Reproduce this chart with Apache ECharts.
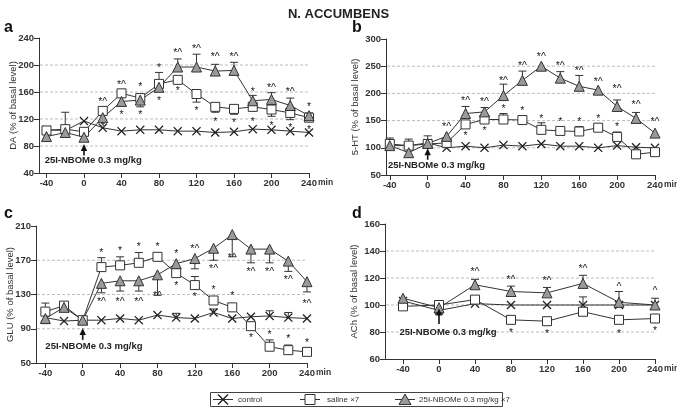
<!DOCTYPE html>
<html><head><meta charset="utf-8">
<script src="https://cdn.jsdelivr.net/npm/echarts@6/dist/echarts.min.js"></script>
<style>html,body{margin:0;padding:0;background:#fff}#c{width:677px;height:407px}</style>
</head><body><div id="c"></div>
<script>
// ---- data ----
const xs = [-40,-20,0,20,40,60,80,100,120,140,160,180,200,220,240];
const xsD = [-40,0,40,80,120,160,200,240];
const xTicks = [-40,0,40,80,120,160,200,240];

const daControl = [104,103,117,107,102,104,104,102,102,100,101,105,104,102,100];
const daSaline  = [103,105,101,132,158,151,172,178,157,138,135,138,134,129,122];
const daNbome   = [94,100,93,122,146,148,167,197,197,191,192,147,149,140,125];
const daSalineErr = [0,25,0,0,0,-13,0,0,-12,-8,-8,-6,-10,-10,-6];
const daNbomeErr  = [0,0,0,5,8,6,22,12,19,10,12,8,10,11,4];
const daMarks = [[20,148,'*^'],[20,111,'*'],[40,173,'*^'],[40,129,'*'],[60,170,'*'],[60,128,'*'],[80,199,'*'],[80,150,'*'],[100,220,'*^'],[100,164,'*'],[120,227,'*^'],[120,134,'*'],[140,214,'*^'],[140,119,'*'],[160,215,'*^'],[160,117,'*'],[180,163,'*'],[180,119,'*'],[200,168,'*^'],[200,113,'*'],[220,163,'*^'],[220,110,'*'],[240,140,'*'],[240,107,'*']];

const htControl = [104,104,109,100,103,100,105,103,107,103,103,100,104,101,100];
const htSaline  = [107,104,107,109,143,152,152,151,133,131,130,137,120,88,92];
const htNbome   = [104,91,108,121,163,166,196,224,250,228,213,206,176,154,127];
const htSalineErr = [11,12,15,0,0,0,11,7,13,0,9,0,9,0,0];
const htNbomeErr  = [0,0,0,0,13,8,21,17,0,12,20,0,12,11,0];
const htMarks = [[20,141,'*^'],[40,189,'*^'],[40,125,'*'],[60,187,'*^'],[60,135,'*'],[80,227,'*^'],[80,175,'*'],[100,254,'*^'],[100,171,'*'],[120,271,'*^'],[120,157,'*'],[140,254,'*^'],[140,150,'*'],[160,245,'*^'],[160,150,'*'],[180,224,'*^'],[180,157,'*'],[200,212,'*^'],[200,141,'*'],[220,183,'*^'],[240,150,'*^']];

const gluControl = [103,99,100,100,102,100,106,103,102,109,102,104,105,103,102];
const gluControlErr = [0,0,0,0,0,0,0,5,0,4,0,0,6,6,0];
const gluSaline  = [110,117,100,162,164,167,174,155,141,123,115,93,69,65,63];
const gluSalineErr = [10,0,0,11,10,12,0,0,10,0,0,0,8,6,0];
const gluNbome   = [102,115,100,143,146,146,153,166,172,184,200,183,183,169,145];
const gluNbomeErr = [-6,0,0,-11,-12,-12,-24,0,-12,-14,-26,-16,-16,-12,-12];
const gluMarks = [[20,181,'*'],[20,123,'*^'],[40,183,'*'],[40,123,'*^'],[60,188,'*'],[60,123,'*^'],[80,188,'*'],[80,131,'*^'],[100,179,'*'],[100,142,'*'],[120,185,'*^'],[120,129,'*'],[140,137,'*'],[140,162,'*^'],[160,175,'*^'],[160,130,'*'],[180,158,'*^'],[180,81,'*'],[200,158,'*^'],[200,85,'*'],[220,149,'*^'],[220,80,'*'],[240,121,'*^'],[240,76,'*']];

const achControl = [103,96,101,100,100,100,100,100];
const achControlErr = [0,0,0,0,0,6,0,0];
const achSaline  = [99,100,104,89,88,95,89,90];
const achNbome   = [105,98,115,110,109,116,102,100];
const achNbomeErr = [0,0,4,4,4,6,8,5];
const achMarks = [[40,126,'*^'],[80,120,'*^'],[80,81,'*'],[120,119,'*^'],[120,80,'*'],[160,128,'*^'],[200,115,'^'],[200,80,'*'],[240,112,'^'],[240,82,'*']];

const yNames = ['DA (% of basal level)','5-HT (% of basal level)','GLU (% of basal level)','ACh (% of basal level)'];
const yRanges = [[40,240,40],[50,300,50],[50,210,40],[60,160,20]];
const xMins = [-48,-44,-50,-60];
// injection arrow at t=0: [tail, head]; dose label [x, y]
const arrows = [[66,83],[78,99],[77,91],[86,97.5]];
const doseLabelPos = [[-42,59],[-42,67],[-40,69],[-44,80]];
const doseText = '25I-NBOMe 0.3 mg/kg';
const names = ['control','saline \u00d77','25I-NBOMe 0.3 mg/kg \u00d77'];

const panels = [
  {x:xs, c:daControl, s:daSaline, n:daNbome, ce:null, se:daSalineErr, ne:daNbomeErr, marks:daMarks},
  {x:xs, c:htControl, s:htSaline, n:htNbome, ce:null, se:htSalineErr, ne:htNbomeErr, marks:htMarks},
  {x:xs, c:gluControl, s:gluSaline, n:gluNbome, ce:gluControlErr, se:gluSalineErr, ne:gluNbomeErr, marks:gluMarks},
  {x:xsD, c:achControl, s:achSaline, n:achNbome, ce:achControlErr, se:null, ne:achNbomeErr, marks:achMarks}
];
const grids = [
  {left:39, top:38, width:270, height:135},
  {left:386, top:39, width:269, height:136},
  {left:36, top:226, width:271, height:137},
  {left:385, top:224, width:270, height:135}
];
const nameGaps = [26,31,26,31];

const ink = '#333';
const XPATH = 'path://M0,1L1,0L5,4L9,0L10,1L6,5L10,9L9,10L5,6L1,10L0,9L4,5Z';
const font = 'Liberation Sans, Arial, sans-serif';

const xAxis = [], yAxis = [], series = [];
panels.forEach((p,i)=>{
  xAxis.push({type:'value', gridIndex:i, min:xMins[i], max:240,
    axisLine:{onZero:false, lineStyle:{color:ink,width:1}},
    axisTick:{customValues:xTicks, lineStyle:{color:ink}},
    axisLabel:{customValues:xTicks, color:'#333', fontSize:9.5, fontWeight:'bold', fontFamily:font, margin:5},
    splitLine:{show:false}});
  const r = yRanges[i];
  yAxis.push({type:'value', gridIndex:i, min:r[0], max:r[1], interval:r[2],
    axisLine:{show:true, onZero:false, lineStyle:{color:ink,width:1}},
    axisTick:{lineStyle:{color:ink}},
    axisLabel:{color:'#333', fontSize:9.5, fontWeight:'bold', fontFamily:font, margin:5},
    splitLine:{show:false}});
  const zip = arr => p.x.map((x,k)=>[x,arr[k]]);
  series.push({type:'line', name:names[0], xAxisIndex:i, yAxisIndex:i, data:zip(p.c), symbol:XPATH, symbolSize:9,
    itemStyle:{color:'#222'}, lineStyle:{color:ink,width:1}});
  series.push({type:'line', name:names[1], xAxisIndex:i, yAxisIndex:i, data:zip(p.s), symbol:'rect', symbolSize:9,
    itemStyle:{color:'#fff', borderColor:ink, borderWidth:1}, lineStyle:{color:ink,width:1}});
  series.push({type:'line', name:names[2], xAxisIndex:i, yAxisIndex:i, data:zip(p.n), symbol:'triangle', symbolSize:10,
    itemStyle:{color:'#9a9a9a', borderColor:ink, borderWidth:1}, lineStyle:{color:ink,width:1}});
});

const chart = echarts.init(document.getElementById('c'));
chart.setOption({
  animation:false,
  backgroundColor:'#fff',
  title:{text:'N. ACCUMBENS', left:'center', top:3, textStyle:{fontSize:13, fontWeight:'bold', color:'#222', fontFamily:font}},
  grid:grids,
  xAxis:xAxis, yAxis:yAxis, series:series
});

// overlays placed through the axes: gridlines, error bars, marks, arrows, labels, legend
const letters = [['a',4,30],['b',352,30],['c',4,216],['d',352,216]];
const gfx = letters.map(l=>({type:'text', x:l[1], y:l[2]-10, style:{text:l[0], font:'bold 16px '+font, fill:'#111'}, z:10}));
panels.forEach((p,i)=>{
  const px = v => chart.convertToPixel({gridIndex:i}, v);
  const r = yRanges[i], g = grids[i];
  for (let v = r[0]+r[2]; v < r[1]; v += r[2]) {
    const a0 = px([xMins[i], v]), a1 = px([240, v]);
    gfx.push({type:'line', shape:{x1:a0[0]+1,y1:a0[1],x2:a1[0],y2:a1[1]}, style:{stroke:'#bdbdbd',lineWidth:1,lineDash:[3,2]}, z:-1, silent:true});
  }
  // y-axis title and "min" unit
  gfx.push({type:'text', x:g.left-nameGaps[i], y:g.top+g.height/2, rotation:Math.PI/2,
    style:{text:yNames[i], font:'9.5px '+font, fill:'#333', align:'center', verticalAlign:'middle', textAlign:'center', textVerticalAlign:'middle'}, z:10, silent:true});
  const m240 = px([240, yRanges[i][0]]);
  gfx.push({type:'text', x:m240[0]+9, y:m240[1]+10, style:{text:'min', font:'bold 8.5px '+font, fill:'#333', verticalAlign:'middle', textVerticalAlign:'middle'}, z:10, silent:true});
  [[p.c,p.ce],[p.s,p.se],[p.n,p.ne]].forEach(([vals,errs])=>{
    if (!errs) return;
    p.x.forEach((x,k)=>{
      const e = errs[k];
      if (!e) return;
      const p0 = px([x, vals[k]]), p1 = px([x, vals[k]+e]);
      gfx.push({type:'line', shape:{x1:p0[0],y1:p0[1],x2:p1[0],y2:p1[1]}, style:{stroke:ink,lineWidth:1}, z:1, silent:true});
      gfx.push({type:'line', shape:{x1:p1[0]-4,y1:p1[1],x2:p1[0]+4,y2:p1[1]}, style:{stroke:ink,lineWidth:1}, z:1, silent:true});
    });
  });
  p.marks.forEach(m=>{
    const q = px([m[0], m[1]]);
    gfx.push({type:'text', x:q[0], y:q[1]+2, style:{text:m[2], font:'10.5px '+font, fill:'#222', textAlign:'center', textVerticalAlign:'middle', align:'center', verticalAlign:'middle'}, z:10, silent:true});
  });
  const a = arrows[i], dl = doseLabelPos[i];
  const t = px([0,a[0]]), h = px([0,a[1]]), tp = px(dl);
  gfx.push({type:'line', shape:{x1:t[0],y1:t[1],x2:h[0],y2:h[1]+6}, style:{stroke:'#111',lineWidth:1.6}, z:10, silent:true});
  gfx.push({type:'polygon', shape:{points:[[h[0],h[1]],[h[0]-3.2,h[1]+7],[h[0]+3.2,h[1]+7]]}, style:{fill:'#111'}, z:10, silent:true});
  gfx.push({type:'text', x:tp[0], y:tp[1], style:{text:doseText, font:'bold 9.5px '+font, fill:'#222', textVerticalAlign:'middle', verticalAlign:'middle'}, z:10, silent:true});
});
// legend box
const legY = 399.5, legItems = [[223,238],[310,327],[405,419]];
gfx.push({type:'rect', shape:{x:210.5, y:392.5, width:292, height:14}, style:{fill:'#fff', stroke:'#444', lineWidth:1}, z:10, silent:true});
legItems.forEach(([cx,tx],k)=>{
  gfx.push({type:'line', shape:{x1:cx-10,y1:legY,x2:cx+10,y2:legY}, style:{stroke:ink,lineWidth:1}, z:11, silent:true});
  if (k===0) {
    gfx.push({type:'line', shape:{x1:cx-5,y1:legY-5,x2:cx+5,y2:legY+5}, style:{stroke:'#222',lineWidth:1.4}, z:12, silent:true});
    gfx.push({type:'line', shape:{x1:cx-5,y1:legY+5,x2:cx+5,y2:legY-5}, style:{stroke:'#222',lineWidth:1.4}, z:12, silent:true});
  } else if (k===1) {
    gfx.push({type:'rect', shape:{x:cx-5, y:legY-5, width:10, height:10}, style:{fill:'#fff', stroke:ink, lineWidth:1}, z:12, silent:true});
  } else {
    gfx.push({type:'polygon', shape:{points:[[cx,legY-5.5],[cx-6,legY+5],[cx+6,legY+5]]}, style:{fill:'#9a9a9a', stroke:ink, lineWidth:1}, z:12, silent:true});
  }
  gfx.push({type:'text', x:tx, y:legY, style:{text:names[k], font:'8px '+font, fill:'#333', verticalAlign:'middle', textVerticalAlign:'middle'}, z:12, silent:true});
});
chart.setOption({graphic:gfx});
</script></body></html>
